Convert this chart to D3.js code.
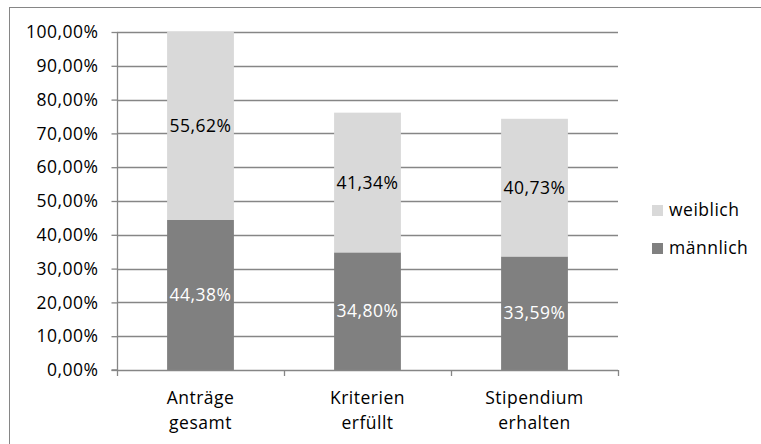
<!DOCTYPE html>
<html><head><meta charset="utf-8">
<script src="https://cdn.jsdelivr.net/npm/d3@7"></script>
<style>
html,body{margin:0;padding:0;background:#fff;}
svg text{font-family:"Open Sans",sans-serif;}
</style></head>
<body><svg id="c" width="761" height="444"></svg>
<script>
const categories = [["Anträge","gesamt"],["Kriterien","erfüllt"],["Stipendium","erhalten"]];
const maennlich = [44.38, 34.80, 33.59];
const weiblich = [55.62, 41.34, 40.73];
const seriesNames = ["weiblich","männlich"];
const yTicks = [0,10,20,30,40,50,60,70,80,90,100];

const svg = d3.select("#c");
const gridColor = "#868686";
const fontSize = 17.5;
const ls = "0.5px";

svg.append("rect").attr("x",9.5).attr("y",7.5).attr("width",800).attr("height",500)
  .attr("fill","none").attr("stroke",gridColor).attr("stroke-width",1);

const pLeft = 117, pRight = 618, pTop = 32, pBottom = 370;
const y = d3.scaleLinear().domain([0,100]).range([pBottom, pTop]);
const x = d3.scaleBand().domain(d3.range(categories.length)).range([pLeft,pRight])
  .paddingInner(0.6).paddingOuter(0.3);
const fmt = v => d3.format(".2f")(v).replace(".", ",") + "%";

// gridlines
svg.append("g").selectAll("line").data(yTicks.filter(t=>t>0)).join("line")
  .attr("x1",pLeft).attr("x2",pRight).attr("y1",d=>Math.round(y(d))+0.5).attr("y2",d=>Math.round(y(d))+0.5)
  .attr("stroke",gridColor).attr("stroke-width",1.3);

// bars
const stack = categories.map((c,i)=>({i, m:maennlich[i], w:weiblich[i]}));
const bars = svg.append("g");
bars.selectAll("rect.m").data(stack).join("rect").attr("class","m")
  .attr("x",d=>x(d.i)).attr("width",x.bandwidth())
  .attr("y",d=>y(d.m)).attr("height",d=>y(0)-y(d.m)).attr("fill","#808080");
bars.selectAll("rect.w").data(stack).join("rect").attr("class","w")
  .attr("x",d=>x(d.i)).attr("width",x.bandwidth())
  .attr("y",d=>y(d.m+d.w)).attr("height",d=>y(d.m)-y(d.m+d.w)).attr("fill","#d9d9d9");

// y axis
const yAxis = d3.axisLeft(y).tickValues(yTicks).tickSize(6).tickPadding(13).tickFormat(fmt);
const ga = svg.append("g").attr("transform",`translate(${pLeft+0.5},0)`).call(yAxis);
ga.select(".domain").attr("stroke",gridColor).attr("stroke-width",1.3).attr("d",`M-6,${pBottom}H0V${pTop}`);
ga.selectAll(".tick line").attr("stroke",gridColor).attr("stroke-width",1.3);
ga.selectAll(".tick text").attr("font-size",fontSize).attr("fill","#000").attr("font-family","Open Sans").attr("letter-spacing",ls);

// x axis
const gx = svg.append("g");
gx.append("line").attr("x1",pLeft).attr("x2",pRight).attr("y1",pBottom+0.5).attr("y2",pBottom+0.5)
  .attr("stroke",gridColor).attr("stroke-width",1.3);
const bounds = d3.range(categories.length+1).map(i=> i<categories.length ? x(i)-x.step()*x.paddingInner()/2 : pRight);
bounds[0]=pLeft;
gx.selectAll("line.t").data(bounds).join("line").attr("class","t")
  .attr("x1",d=>Math.round(d)+0.5).attr("x2",d=>Math.round(d)+0.5).attr("y1",pBottom).attr("y2",pBottom+6)
  .attr("stroke",gridColor).attr("stroke-width",1.3);
const cl = gx.selectAll("text").data(categories).join("text")
  .attr("text-anchor","middle").attr("font-size",fontSize).attr("fill","#000").attr("letter-spacing",ls);
cl.each(function(d,i){
  const t=d3.select(this);
  d.forEach((line,k)=>t.append("tspan").attr("x",x(i)+x.bandwidth()/2).attr("y",404+k*25).text(line));
});

// data labels
const lab = svg.append("g").attr("font-size",fontSize).attr("text-anchor","middle").attr("letter-spacing",ls);
lab.selectAll("text.m").data(stack).join("text").attr("class","m")
  .attr("x",d=>x(d.i)+x.bandwidth()/2).attr("y",d=>y(d.m/2)+6).attr("fill","#fff").text(d=>fmt(d.m));
lab.selectAll("text.w").data(stack).join("text").attr("class","w")
  .attr("x",d=>x(d.i)+x.bandwidth()/2).attr("y",d=>y(d.m+d.w/2)+6).attr("fill","#000").text(d=>fmt(d.w));

// legend
const colors = {"weiblich":"#d9d9d9","männlich":"#808080"};
const lg = svg.append("g");
seriesNames.forEach((n,k)=>{
  const cy = 210 + k*38;
  lg.append("rect").attr("x",652).attr("y",cy-5).attr("width",11).attr("height",11).attr("fill",colors[n]);
  lg.append("text").attr("x",669).attr("y",cy+6).attr("font-size",fontSize).attr("fill","#000").attr("letter-spacing",ls).text(n);
});
</script></body></html>
